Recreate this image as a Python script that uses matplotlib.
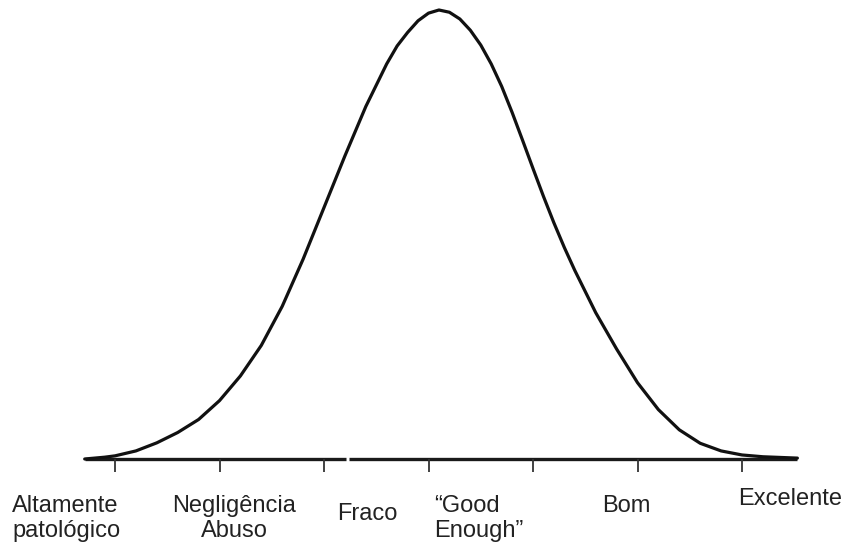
import matplotlib.pyplot as plt

plt.rcParams['font.family'] = ['Liberation Sans', 'DejaVu Sans']

# curve points (x in tick units, y as % of peak height)
curve_x = [-0.29, -0.1, 0.0, 0.2, 0.4, 0.6, 0.8, 1.0, 1.2, 1.4, 1.6, 1.8,
           2.0, 2.2, 2.4, 2.6, 2.7, 2.8, 2.9, 3.0, 3.1, 3.2, 3.3, 3.4, 3.5,
           3.6, 3.7, 3.8, 3.9, 4.0, 4.1, 4.2, 4.3, 4.4, 4.6, 4.8, 5.0, 5.2,
           5.4, 5.6, 5.8, 6.0, 6.2, 6.53]
curve_y = [0.0, 0.4, 0.7, 1.8, 3.6, 5.9, 8.8, 13.0, 18.5, 25.3, 34.0, 44.5,
           56.0, 67.5, 78.5, 88.0, 92.0, 95.0, 97.6, 99.3, 100.0, 99.5, 98.0,
           95.5, 92.2, 88.0, 83.0, 77.2, 71.0, 64.7, 58.5, 52.6, 47.1, 42.0,
           32.6, 24.5, 17.0, 11.0, 6.5, 3.5, 1.8, 0.9, 0.5, 0.2]

tick_pos = [0, 1, 2, 3, 4, 5, 6]
axis_start, axis_end = -0.29, 6.53

# label lines: (text, x px, baseline px, alignment)
labels = [
    ("Altamente", 12, 512, 'left'),
    ("patológico", 12, 537, 'left'),
    ("Negligência", 234, 512, 'center'),
    ("Abuso", 234, 537, 'center'),
    ("Fraco", 367, 520, 'center'),
    ("\u201cGood", 434, 512, 'left'),
    ("Enough\u201d", 434, 537, 'left'),
    ("Bom", 626, 512, 'center'),
    ("Excelente", 738, 505, 'left'),
]

W, H = 846, 546
fig = plt.figure(figsize=(W / 100, H / 100), dpi=100)
ax = fig.add_axes([0, 0, 1, 1])

# pixel mapping: px = 115 + 104.5*x, py = 459 - 4.49*y
ax.set_xlim(-115 / 104.5, (W - 115) / 104.5)
ax.set_ylim(-(H - 459) / 4.49, 459 / 4.49)
ax.axis('off')

# baseline with a tiny gap like the scan
ax.plot([axis_start, 2.21], [0, 0], color='#1a1a1a', lw=2.4, solid_capstyle='butt')
ax.plot([2.24, axis_end], [0, 0], color='#1a1a1a', lw=2.4, solid_capstyle='butt')
ax.vlines(tick_pos, -2.9, 0, color='#333333', lw=1.3)

ax.plot(curve_x, curve_y, color='#111111', lw=2.3,
        solid_joinstyle='round', solid_capstyle='round')

for txt, x, y, ha in labels:
    fig.text(x / W, 1 - y / H, txt, ha=ha, va='baseline', fontsize=17,
             color='#222222')

fig.savefig('out.png', dpi=100)
